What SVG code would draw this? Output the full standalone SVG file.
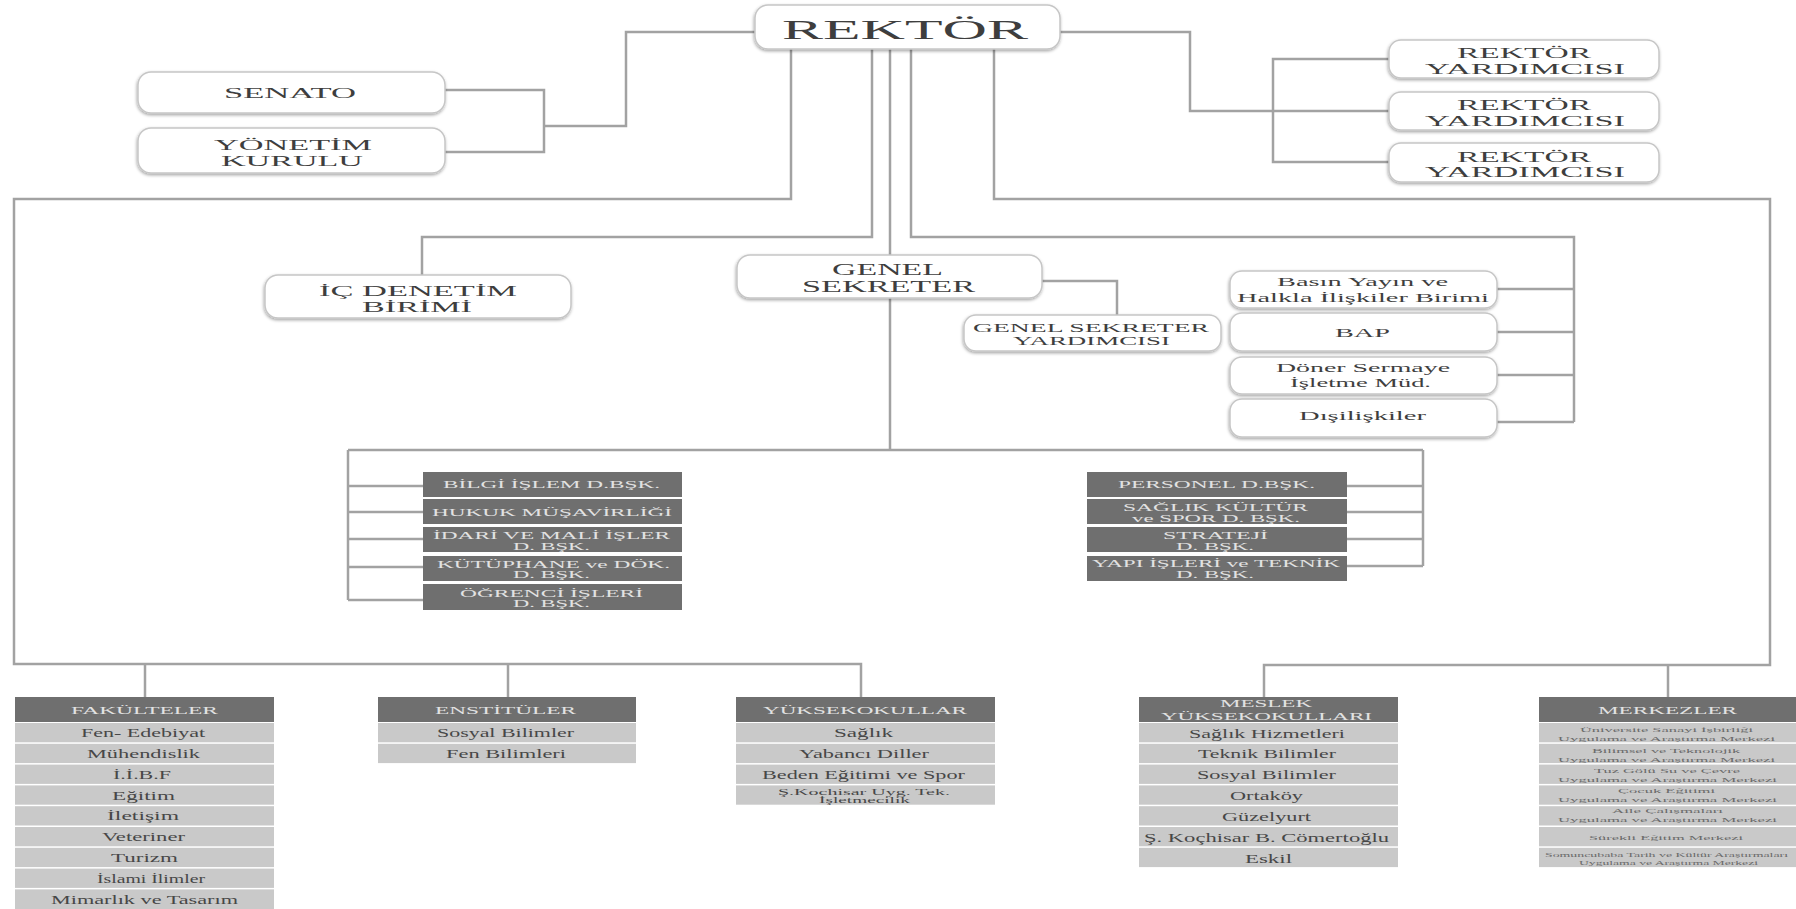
<svg xmlns="http://www.w3.org/2000/svg" width="1796" height="909" viewBox="0 0 1796 909">
<defs>
<filter id="sh" x="-5%" y="-20%" width="110%" height="150%">
<feDropShadow dx="-0.5" dy="1.5" stdDeviation="1.5" flood-color="#000" flood-opacity="0.35"/>
</filter>
<style>
.ln{fill:none;stroke:#a2a2a2;stroke-width:2.5}
.rb{fill:#fff;stroke:#c6c6c6;stroke-width:1.5;filter:url(#sh)}
.t{font-family:"Liberation Serif","Times New Roman",serif;fill:#3e3e3e}
.dk{fill:#6f6f6f}
.lt{fill:#c9c9c9}
.tw{font-family:"Liberation Serif","Times New Roman",serif;fill:#e2e2e2}
.tr{font-family:"Liberation Serif","Times New Roman",serif;fill:#474747}
.tm{font-family:"Liberation Serif","Times New Roman",serif;fill:#6a6a6a}
</style>
</defs>
<rect width="1796" height="909" fill="#fff"/>

<g id="connectors">
<path class="ln" d="M445,90 H544 V152 H445 M544,126 H626 V32 H755"/>
<path class="ln" d="M1060,32 H1190 V111 H1389 M1389,59 H1273 V162 H1389"/>
<path class="ln" d="M791,49 V199 H14 V664 H861 V697 M145,664 V697 M508,664 V697"/>
<path class="ln" d="M994,49 V199 H1770 V665 H1264 V697 M1668,665 V697"/>
<path class="ln" d="M872,49 V237 H422 V275"/>
<path class="ln" d="M890,49 V255 M890,298 V450 M348,450 H1423 M348,450 V600 M1423,450 V566"/>
<path class="ln" d="M348,486 H423 M348,512 H423 M348,539 H423 M348,567 H423 M348,600 H423"/>
<path class="ln" d="M1347,486 H1423 M1347,512 H1423 M1347,539 H1423 M1347,566 H1423"/>
<path class="ln" d="M911,49 V237 H1574 V422 M1497,289 H1574 M1497,332 H1574 M1497,375 H1574 M1497,422 H1574"/>
<path class="ln" d="M1042,281 H1117 V315"/>
</g>

<g id="rektor">
<rect class="rb" x="755" y="5" width="305" height="44" rx="13"/>
<text class="t" x="782" y="39" font-size="27" textLength="246" lengthAdjust="spacingAndGlyphs">REKTÖR</text>
</g>
<g id="senato">
<rect class="rb" x="138" y="72" width="307" height="41" rx="13"/>
<text class="t" x="224" y="98" font-size="14.5" textLength="132" lengthAdjust="spacingAndGlyphs">SENATO</text>
</g>
<g id="yonetim">
<rect class="rb" x="138" y="128" width="307" height="45" rx="13"/>
<text class="t" x="214" y="150" font-size="14.5" textLength="158" lengthAdjust="spacingAndGlyphs">YÖNETİM</text>
<text class="t" x="221" y="166" font-size="14.5" textLength="142" lengthAdjust="spacingAndGlyphs">KURULU</text>
</g>
<g id="ry1">
<rect class="rb" x="1389" y="40" width="270" height="38" rx="12"/>
<text class="t" x="1457" y="58" font-size="14.5" textLength="134" lengthAdjust="spacingAndGlyphs">REKTÖR</text>
<text class="t" x="1425" y="74" font-size="14.5" textLength="200" lengthAdjust="spacingAndGlyphs">YARDIMCISI</text>
</g>
<g id="ry2">
<rect class="rb" x="1389" y="92" width="270" height="38" rx="12"/>
<text class="t" x="1457" y="110" font-size="14.5" textLength="134" lengthAdjust="spacingAndGlyphs">REKTÖR</text>
<text class="t" x="1425" y="126" font-size="14.5" textLength="200" lengthAdjust="spacingAndGlyphs">YARDIMCISI</text>
</g>
<g id="ry3">
<rect class="rb" x="1389" y="143" width="270" height="39" rx="12"/>
<text class="t" x="1457" y="162" font-size="14.5" textLength="134" lengthAdjust="spacingAndGlyphs">REKTÖR</text>
<text class="t" x="1425" y="177" font-size="14.5" textLength="200" lengthAdjust="spacingAndGlyphs">YARDIMCISI</text>
</g>
<g id="ic-denetim">
<rect class="rb" x="265" y="275" width="306" height="43" rx="13"/>
<text class="t" x="319" y="296" font-size="15" textLength="198" lengthAdjust="spacingAndGlyphs">İÇ DENETİM</text>
<text class="t" x="362" y="312" font-size="15" textLength="110" lengthAdjust="spacingAndGlyphs">BİRİMİ</text>
</g>
<g id="genel-sekreter">
<rect class="rb" x="737" y="255" width="305" height="43" rx="13"/>
<text class="t" x="832" y="275" font-size="17" textLength="111" lengthAdjust="spacingAndGlyphs">GENEL</text>
<text class="t" x="802" y="292" font-size="17" textLength="173" lengthAdjust="spacingAndGlyphs">SEKRETER</text>
</g>
<g id="gs-yardimcisi">
<rect class="rb" x="964" y="315" width="257" height="36" rx="12"/>
<text class="t" x="973" y="332" font-size="13" textLength="236" lengthAdjust="spacingAndGlyphs">GENEL SEKRETER</text>
<text class="t" x="1013" y="345" font-size="13" textLength="157" lengthAdjust="spacingAndGlyphs">YARDIMCISI</text>
</g>
<g id="basin">
<rect class="rb" x="1230" y="271" width="267" height="37" rx="12"/>
<text class="t" x="1277" y="286" font-size="13.5" textLength="171" lengthAdjust="spacingAndGlyphs">Basın Yayın ve</text>
<text class="t" x="1237" y="302" font-size="13.5" textLength="252" lengthAdjust="spacingAndGlyphs">Halkla İlişkiler Birimi</text>
</g>
<g id="bap">
<rect class="rb" x="1230" y="313" width="267" height="38" rx="12"/>
<text class="t" x="1335" y="337" font-size="13.5" textLength="55" lengthAdjust="spacingAndGlyphs">BAP</text>
</g>
<g id="doner">
<rect class="rb" x="1230" y="357" width="267" height="37" rx="12"/>
<text class="t" x="1276" y="372" font-size="13.5" textLength="174" lengthAdjust="spacingAndGlyphs">Döner Sermaye</text>
<text class="t" x="1290" y="387" font-size="13.5" textLength="141" lengthAdjust="spacingAndGlyphs">İşletme Müd.</text>
</g>
<g id="disiliskiler">
<rect class="rb" x="1230" y="399" width="267" height="38" rx="12"/>
<text class="t" x="1299" y="420" font-size="13.5" textLength="127" lengthAdjust="spacingAndGlyphs">Dışilişkiler</text>
</g>

<g id="bilgi-islem"><rect class="dk" x="423" y="472" width="259" height="25"/>
<text class="tw" x="443" y="488" font-size="11" textLength="217" lengthAdjust="spacingAndGlyphs">BİLGİ İŞLEM D.BŞK.</text></g>
<g id="hukuk"><rect class="dk" x="423" y="499" width="259" height="25"/>
<text class="tw" x="432" y="516" font-size="11" textLength="240" lengthAdjust="spacingAndGlyphs">HUKUK MÜŞAVİRLİĞİ</text></g>
<g id="idari"><rect class="dk" x="423" y="527" width="259" height="25"/>
<text class="tw" x="433" y="539" font-size="11" textLength="237" lengthAdjust="spacingAndGlyphs">İDARİ VE MALİ İŞLER</text>
<text class="tw" x="513" y="550" font-size="11" textLength="77" lengthAdjust="spacingAndGlyphs">D. BŞK.</text></g>
<g id="kutuphane"><rect class="dk" x="423" y="556" width="259" height="25"/>
<text class="tw" x="437" y="568" font-size="11" textLength="233" lengthAdjust="spacingAndGlyphs">KÜTÜPHANE ve DÖK.</text>
<text class="tw" x="513" y="578" font-size="11" textLength="77" lengthAdjust="spacingAndGlyphs">D. BŞK.</text></g>
<g id="ogrenci"><rect class="dk" x="423" y="584" width="259" height="26"/>
<text class="tw" x="460" y="597" font-size="11" textLength="183" lengthAdjust="spacingAndGlyphs">ÖĞRENCİ İŞLERİ</text>
<text class="tw" x="513" y="607" font-size="11" textLength="77" lengthAdjust="spacingAndGlyphs">D. BŞK.</text></g>

<g id="personel"><rect class="dk" x="1087" y="472" width="260" height="25"/>
<text class="tw" x="1118" y="488" font-size="11" textLength="197" lengthAdjust="spacingAndGlyphs">PERSONEL D.BŞK.</text></g>
<g id="saglik-kultur"><rect class="dk" x="1087" y="499" width="260" height="25"/>
<text class="tw" x="1123" y="511" font-size="11" textLength="185" lengthAdjust="spacingAndGlyphs">SAĞLIK KÜLTÜR</text>
<text class="tw" x="1132" y="522" font-size="11" textLength="168" lengthAdjust="spacingAndGlyphs">ve SPOR D. BŞK.</text></g>
<g id="strateji"><rect class="dk" x="1087" y="527" width="260" height="25"/>
<text class="tw" x="1163" y="539" font-size="11" textLength="105" lengthAdjust="spacingAndGlyphs">STRATEJİ</text>
<text class="tw" x="1176" y="550" font-size="11" textLength="78" lengthAdjust="spacingAndGlyphs">D. BŞK.</text></g>
<g id="yapi-isleri"><rect class="dk" x="1087" y="556" width="260" height="25"/>
<text class="tw" x="1092" y="567" font-size="11" textLength="248" lengthAdjust="spacingAndGlyphs">YAPI İŞLERİ ve TEKNİK</text>
<text class="tw" x="1176" y="578" font-size="11" textLength="78" lengthAdjust="spacingAndGlyphs">D. BŞK.</text></g>

<g id="fakulteler">
<rect class="dk" x="15" y="697" width="259" height="25"/>
<text class="tw" x="71" y="714" font-size="11" textLength="147" lengthAdjust="spacingAndGlyphs">FAKÜLTELER</text>
<rect class="lt" x="15" y="723" width="259" height="19.3"/>
<rect class="lt" x="15" y="743.8" width="259" height="19.3"/>
<rect class="lt" x="15" y="764.6" width="259" height="19.3"/>
<rect class="lt" x="15" y="785.4" width="259" height="19.3"/>
<rect class="lt" x="15" y="806.2" width="259" height="19.3"/>
<rect class="lt" x="15" y="827" width="259" height="19.3"/>
<rect class="lt" x="15" y="847.8" width="259" height="19.3"/>
<rect class="lt" x="15" y="868.6" width="259" height="19.3"/>
<rect class="lt" x="15" y="889.4" width="259" height="19.6"/>
<text class="tr" x="81" y="737" font-size="11.5" textLength="124" lengthAdjust="spacingAndGlyphs">Fen- Edebiyat</text>
<text class="tr" x="87" y="758" font-size="11.5" textLength="113" lengthAdjust="spacingAndGlyphs">Mühendislik</text>
<text class="tr" x="113" y="779" font-size="11.5" textLength="58" lengthAdjust="spacingAndGlyphs">İ.İ.B.F</text>
<text class="tr" x="112" y="800" font-size="11.5" textLength="63" lengthAdjust="spacingAndGlyphs">Eğitim</text>
<text class="tr" x="107" y="820" font-size="11.5" textLength="72" lengthAdjust="spacingAndGlyphs">İletişim</text>
<text class="tr" x="102" y="841" font-size="11.5" textLength="83" lengthAdjust="spacingAndGlyphs">Veteriner</text>
<text class="tr" x="111" y="862" font-size="11.5" textLength="67" lengthAdjust="spacingAndGlyphs">Turizm</text>
<text class="tr" x="97" y="883" font-size="11.5" textLength="108" lengthAdjust="spacingAndGlyphs">İslami İlimler</text>
<text class="tr" x="51" y="904" font-size="11.5" textLength="187" lengthAdjust="spacingAndGlyphs">Mimarlık ve Tasarım</text>
</g>

<g id="enstituler">
<rect class="dk" x="378" y="697" width="258" height="25"/>
<text class="tw" x="435" y="714" font-size="11" textLength="141" lengthAdjust="spacingAndGlyphs">ENSTİTÜLER</text>
<rect class="lt" x="378" y="723" width="258" height="19.3"/>
<rect class="lt" x="378" y="743.8" width="258" height="19.3"/>
<text class="tr" x="437" y="737" font-size="11.5" textLength="137" lengthAdjust="spacingAndGlyphs">Sosyal Bilimler</text>
<text class="tr" x="446" y="758" font-size="11.5" textLength="120" lengthAdjust="spacingAndGlyphs">Fen Bilimleri</text>
</g>

<g id="yuksekokullar">
<rect class="dk" x="736" y="697" width="259" height="25"/>
<text class="tw" x="763" y="714" font-size="11" textLength="204" lengthAdjust="spacingAndGlyphs">YÜKSEKOKULLAR</text>
<rect class="lt" x="736" y="723" width="259" height="19.3"/>
<rect class="lt" x="736" y="743.8" width="259" height="19.3"/>
<rect class="lt" x="736" y="764.6" width="259" height="19.3"/>
<rect class="lt" x="736" y="785.4" width="259" height="19.3"/>
<text class="tr" x="834" y="737" font-size="11.5" textLength="59" lengthAdjust="spacingAndGlyphs">Sağlık</text>
<text class="tr" x="799" y="758" font-size="11.5" textLength="130" lengthAdjust="spacingAndGlyphs">Yabancı Diller</text>
<text class="tr" x="762" y="779" font-size="11.5" textLength="203" lengthAdjust="spacingAndGlyphs">Beden Eğitimi ve Spor</text>
<text class="tr" x="778" y="795" font-size="8.5" textLength="172" lengthAdjust="spacingAndGlyphs">Ş.Kochisar Uyg.  Tek.</text>
<text class="tr" x="819" y="803" font-size="8.5" textLength="91" lengthAdjust="spacingAndGlyphs">İşletmecilik</text>
</g>

<g id="meslek-yuksekokullari">
<rect class="dk" x="1139" y="697" width="259" height="25"/>
<text class="tw" x="1220" y="707" font-size="11" textLength="92" lengthAdjust="spacingAndGlyphs">MESLEK</text>
<text class="tw" x="1161" y="720" font-size="11" textLength="211" lengthAdjust="spacingAndGlyphs">YÜKSEKOKULLARI</text>
<rect class="lt" x="1139" y="723" width="259" height="19.3"/>
<rect class="lt" x="1139" y="743.8" width="259" height="19.3"/>
<rect class="lt" x="1139" y="764.6" width="259" height="19.3"/>
<rect class="lt" x="1139" y="785.4" width="259" height="19.3"/>
<rect class="lt" x="1139" y="806.2" width="259" height="19.3"/>
<rect class="lt" x="1139" y="827" width="259" height="19.3"/>
<rect class="lt" x="1139" y="847.8" width="259" height="19.3"/>
<text class="tr" x="1189" y="738" font-size="12.5" textLength="156" lengthAdjust="spacingAndGlyphs">Sağlık Hizmetleri</text>
<text class="tr" x="1198" y="758" font-size="12.5" textLength="138" lengthAdjust="spacingAndGlyphs">Teknik Bilimler</text>
<text class="tr" x="1197" y="779" font-size="12.5" textLength="139" lengthAdjust="spacingAndGlyphs">Sosyal Bilimler</text>
<text class="tr" x="1230" y="800" font-size="12.5" textLength="73" lengthAdjust="spacingAndGlyphs">Ortaköy</text>
<text class="tr" x="1222" y="821" font-size="12.5" textLength="89" lengthAdjust="spacingAndGlyphs">Güzelyurt</text>
<text class="tr" x="1144" y="842" font-size="12.5" textLength="245" lengthAdjust="spacingAndGlyphs">Ş. Koçhisar B. Cömertoğlu</text>
<text class="tr" x="1245" y="863" font-size="12.5" textLength="47" lengthAdjust="spacingAndGlyphs">Eskil</text>
</g>

<g id="merkezler">
<rect class="dk" x="1539" y="697" width="257" height="25"/>
<text class="tw" x="1598" y="714" font-size="11" textLength="139" lengthAdjust="spacingAndGlyphs">MERKEZLER</text>
<rect class="lt" x="1539" y="723" width="257" height="19.3"/>
<rect class="lt" x="1539" y="743.8" width="257" height="19.3"/>
<rect class="lt" x="1539" y="764.6" width="257" height="19.3"/>
<rect class="lt" x="1539" y="785.4" width="257" height="19.3"/>
<rect class="lt" x="1539" y="806.2" width="257" height="19.3"/>
<rect class="lt" x="1539" y="827" width="257" height="19.3"/>
<rect class="lt" x="1539" y="847.8" width="257" height="19.3"/>
<text class="tm" x="1580" y="732" font-size="7" textLength="173" lengthAdjust="spacingAndGlyphs">Üniversite Sanayi İşbirliği</text>
<text class="tm" x="1558" y="741" font-size="7" textLength="217" lengthAdjust="spacingAndGlyphs">Uygulama ve Araştırma Merkezi</text>
<text class="tm" x="1592" y="753" font-size="7" textLength="148" lengthAdjust="spacingAndGlyphs">Bilimsel ve Teknolojik</text>
<text class="tm" x="1558" y="762" font-size="7" textLength="217" lengthAdjust="spacingAndGlyphs">Uygulama ve Araştırma Merkezi</text>
<text class="tm" x="1594" y="773" font-size="7" textLength="146" lengthAdjust="spacingAndGlyphs">Tuz Gölü Su ve Çevre</text>
<text class="tm" x="1558" y="782" font-size="7" textLength="219" lengthAdjust="spacingAndGlyphs">Uygulama ve Araştırma Merkezi</text>
<text class="tm" x="1618" y="793" font-size="7" textLength="97" lengthAdjust="spacingAndGlyphs">Çocuk Eğitimi</text>
<text class="tm" x="1558" y="802" font-size="7" textLength="219" lengthAdjust="spacingAndGlyphs">Uygulama ve Araştırma Merkezi</text>
<text class="tm" x="1612" y="813" font-size="7" textLength="111" lengthAdjust="spacingAndGlyphs">Aile Çalışmaları</text>
<text class="tm" x="1558" y="822" font-size="7" textLength="219" lengthAdjust="spacingAndGlyphs">Uygulama ve Araştırma Merkezi</text>
<text class="tm" x="1589" y="840" font-size="7" textLength="154" lengthAdjust="spacingAndGlyphs">Sürekli Eğitim Merkezi</text>
<text class="tm" x="1545" y="857" font-size="6.5" textLength="243" lengthAdjust="spacingAndGlyphs">Somuncubaba Tarih ve Kültür Araştırmaları</text>
<text class="tm" x="1579" y="865" font-size="6.5" textLength="179" lengthAdjust="spacingAndGlyphs">Uygulama ve Araştırma Merkezi</text>
</g>
</svg>
